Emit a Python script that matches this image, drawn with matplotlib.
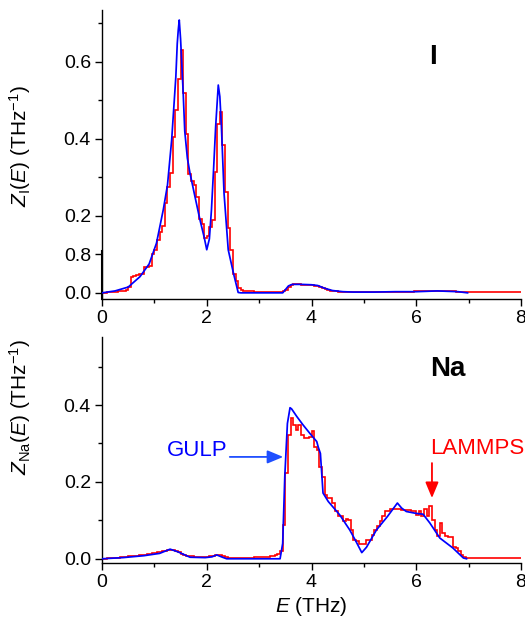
import numpy as np
import matplotlib
matplotlib.use("Agg")
import matplotlib.pyplot as plt

plt.rcParams['font.family'] = ['Liberation Sans', 'DejaVu Sans']
plt.rcParams['mathtext.fontset'] = 'custom'
plt.rcParams['mathtext.rm'] = 'Liberation Sans'
plt.rcParams['mathtext.it'] = 'Liberation Sans:italic'
plt.rcParams['mathtext.bf'] = 'Liberation Sans:bold'

# ---------------- data ----------------
bin_width = 0.05  # THz, LAMMPS histogram bins from 0 to 8

# Panel I : GULP (smooth)
gulp_I_E = [0.0, 0.25, 0.5, 0.725, 0.9, 1.04, 1.17, 1.25, 1.33, 1.41, 1.437, 1.456, 1.475,
            1.50, 1.52, 1.55, 1.58, 1.63, 1.68, 1.775, 1.87, 1.95, 2.0, 2.05, 2.09, 2.13,
            2.17, 2.22, 2.25, 2.28, 2.33, 2.41, 2.51, 2.60, 2.65, 3.45, 3.50, 3.56, 3.63,
            3.8, 4.0, 4.12, 4.25, 4.4, 4.6, 4.8, 5.2, 5.6, 6.0, 6.2, 6.4, 6.6, 6.8, 6.98]
gulp_I_Z = [0.0, 0.005, 0.015, 0.042, 0.075, 0.129, 0.216, 0.28, 0.397, 0.562, 0.648, 0.683, 0.709,
            0.66, 0.605, 0.52, 0.42, 0.35, 0.311, 0.25, 0.19, 0.145, 0.112, 0.14, 0.216, 0.32,
            0.432, 0.54, 0.51, 0.432, 0.259, 0.112, 0.051, 0.001, 0.0, 0.0, 0.008, 0.018, 0.022,
            0.022, 0.021, 0.019, 0.012, 0.006, 0.003, 0.002, 0.002, 0.003, 0.003, 0.004, 0.005,
            0.004, 0.003, 0.0]

# Panel I : LAMMPS (histogram, 160 bins of 0.05 THz)
lammps_I = [
    0.0, 0.0, 0.001, 0.003, 0.003, 0.003, 0.004, 0.005, 0.005, 0.008,
    0.015, 0.04, 0.045, 0.047, 0.05, 0.05, 0.066, 0.068, 0.07, 0.10,
    0.112, 0.138, 0.159, 0.174, 0.233, 0.276, 0.311, 0.406, 0.475, 0.555,
    0.631, 0.519, 0.413, 0.31, 0.29, 0.28, 0.25, 0.191, 0.178, 0.142,
    0.147, 0.172, 0.19, 0.315, 0.44, 0.471, 0.384, 0.263, 0.168, 0.112,
    0.05, 0.03, 0.012, 0.007, 0.005, 0.004, 0.004, 0.004, 0.003, 0.003,
    0.003, 0.003, 0.003, 0.003, 0.003, 0.003, 0.003, 0.003, 0.003, 0.004,
    0.008, 0.014, 0.02, 0.022, 0.022, 0.022, 0.021, 0.021, 0.021, 0.02,
    0.02, 0.019, 0.018, 0.015, 0.012, 0.01, 0.008, 0.006, 0.005, 0.004,
    0.003, 0.003, 0.002, 0.002, 0.002, 0.002, 0.002, 0.002, 0.002, 0.002,
    0.002, 0.002, 0.002, 0.002, 0.002, 0.002, 0.003, 0.003, 0.003, 0.003,
    0.003, 0.003, 0.003, 0.003, 0.003, 0.003, 0.003, 0.003, 0.003, 0.004,
    0.004, 0.004, 0.004, 0.005, 0.006, 0.004, 0.006, 0.005, 0.006, 0.005,
    0.006, 0.005, 0.005, 0.004, 0.004, 0.003, 0.002, 0.001, 0.001, 0.001,
    0.001, 0.001, 0.001, 0.001, 0.001, 0.001, 0.001, 0.001, 0.001, 0.001,
    0.001, 0.001, 0.001, 0.001, 0.001, 0.001, 0.001, 0.001, 0.001, 0.001,
]

# Panel Na : GULP (smooth)
gulp_Na_E = [0.0, 0.4, 0.8, 1.1, 1.30, 1.45, 1.68, 1.97, 2.1, 2.19, 2.3, 2.38, 2.6, 3.0,
             3.40, 3.45, 3.49, 3.54, 3.59, 3.62, 3.72, 3.84, 3.97, 4.10, 4.13, 4.17, 4.22,
             4.32, 4.54, 4.73, 4.85, 4.96, 5.05, 5.24, 5.45, 5.64, 5.72, 5.81, 6.0, 6.13,
             6.26, 6.45, 6.70, 6.90, 6.96]
gulp_Na_Z = [0.0, 0.003, 0.008, 0.014, 0.025, 0.018, 0.004, 0.003, 0.005, 0.01, 0.004, 0.0, 0.0, 0.0,
             0.0, 0.04, 0.214, 0.352, 0.393, 0.39, 0.37, 0.348, 0.326, 0.305, 0.29, 0.274, 0.171,
             0.149, 0.114, 0.075, 0.045, 0.016, 0.03, 0.075, 0.11, 0.145, 0.132, 0.123, 0.118, 0.116,
             0.093, 0.054, 0.028, 0.002, 0.0]

# Panel Na : LAMMPS (histogram, 160 bins of 0.05 THz)
lammps_Na = [
    0.0, 0.0, 0.001, 0.002, 0.002, 0.003, 0.003, 0.004, 0.004, 0.005,
    0.006, 0.007, 0.008, 0.008, 0.009, 0.010, 0.011, 0.012, 0.013, 0.014,
    0.016, 0.017, 0.018, 0.020, 0.021, 0.023, 0.023, 0.024, 0.021, 0.017,
    0.013, 0.010, 0.008, 0.007, 0.006, 0.005, 0.005, 0.004, 0.004, 0.005,
    0.005, 0.006, 0.008, 0.010, 0.011, 0.009, 0.006, 0.004, 0.003, 0.003,
    0.003, 0.003, 0.003, 0.003, 0.003, 0.003, 0.003, 0.003, 0.004, 0.004,
    0.004, 0.004, 0.004, 0.005, 0.006, 0.007, 0.009, 0.012, 0.020, 0.088,
    0.223, 0.322, 0.365, 0.348, 0.335, 0.348, 0.322, 0.313, 0.313, 0.318,
    0.333, 0.292, 0.283, 0.24, 0.214, 0.166, 0.157, 0.157, 0.145, 0.123,
    0.11, 0.11, 0.097, 0.104, 0.101, 0.075, 0.049, 0.045, 0.039, 0.039,
    0.039, 0.048, 0.05, 0.062, 0.075, 0.084, 0.097, 0.11, 0.123, 0.125,
    0.129, 0.129, 0.129, 0.129, 0.128, 0.127, 0.126, 0.126, 0.125, 0.125,
    0.115, 0.125, 0.112, 0.13, 0.112, 0.138, 0.101, 0.075, 0.058, 0.093,
    0.067, 0.06, 0.057, 0.057, 0.03, 0.028, 0.02, 0.01, 0.004, 0.002,
    0.002, 0.002, 0.002, 0.002, 0.002, 0.002, 0.002, 0.002, 0.002, 0.002,
    0.002, 0.002, 0.002, 0.002, 0.002, 0.002, 0.002, 0.002, 0.002, 0.002,
]

x_ticks = [0, 2, 4, 6, 8]
x_tick_labels = ['0', '2', '4', '6', '8']
I_yticks = [0.0, 0.1, 0.2, 0.4, 0.6]
I_ytick_labels = ['0.0', '0.8', '0.2', '0.4', '0.6']
Na_yticks = [0.0, 0.2, 0.4]
Na_ytick_labels = ['0.0', '0.2', '0.4']

# ---------------- figure ----------------
BLUE = '#0000ff'
RED = '#ff0000'
TICK_FS = 14
LABEL_FS = 15

fig = plt.figure(figsize=(5.25, 6.27), dpi=100)
ax1 = fig.add_axes([102/525, 1-299/627, 419/525, 289/627])
ax2 = fig.add_axes([102/525, 1-563/627, 419/525, 226/627])

edges_I = np.arange(len(lammps_I) + 1) * bin_width
edges_Na = np.arange(len(lammps_Na) + 1) * bin_width

for ax in (ax1, ax2):
    for s in ('top', 'right'):
        ax.spines[s].set_visible(False)
    ax.spines['left'].set_linewidth(1.0)
    ax.spines['bottom'].set_linewidth(1.0)
    ax.set_xlim(0, 8)
    ax.set_xticks(x_ticks)
    ax.set_xticklabels(x_tick_labels)
    ax.set_xticks([1, 3, 5, 7], minor=True)
    ax.tick_params(axis='both', which='major', direction='out', length=5, width=1.0,
                   labelsize=TICK_FS, pad=3)
    ax.tick_params(axis='both', which='minor', direction='out', length=3, width=1.0)

# Panel I
ax1.stairs(lammps_I, edges_I, color=RED, lw=1.2, baseline=None, zorder=2)
ax1.plot(gulp_I_E, gulp_I_Z, color=BLUE, lw=1.25, zorder=3)
ax1.set_ylim(-0.016, 0.735)
ax1.set_yticks(I_yticks)
ax1.set_yticklabels(I_ytick_labels)
ax1.set_yticks([0.3, 0.5, 0.7], minor=True)
ax1.set_ylabel(r'$Z_{\mathrm{I}}(E)$ (THz$^{-1}$)', fontsize=LABEL_FS)
ax1.yaxis.set_label_coords(-0.165, 0.53)
ax1.plot([0, 0], [-0.016, 0.11], color='black', lw=1.5, clip_on=False, zorder=1)
ax1.text(6.32, 0.613, 'I', fontsize=20, fontweight='bold', ha='center', va='center')

# Panel Na
ax2.stairs(lammps_Na, edges_Na, color=RED, lw=1.2, baseline=None, zorder=2)
ax2.plot(gulp_Na_E, gulp_Na_Z, color=BLUE, lw=1.25, zorder=3)
ax2.set_ylim(-0.011, 0.577)
ax2.set_yticks(Na_yticks)
ax2.set_yticklabels(Na_ytick_labels)
ax2.set_yticks([0.1, 0.3, 0.5], minor=True)
ax2.set_ylabel(r'$Z_{\mathrm{Na}}(E)$ (THz$^{-1}$)', fontsize=LABEL_FS)
ax2.yaxis.set_label_coords(-0.165, 0.69)
ax2.set_xlabel(r'$E$ (THz)', fontsize=LABEL_FS, labelpad=3)
ax2.text(6.6, 0.494, 'Na', fontsize=20, fontweight='bold', ha='center', va='center')

ax2.text(1.81, 0.283, 'GULP', color=BLUE, fontsize=16, ha='center', va='center')
ax2.annotate('', xy=(3.46, 0.265), xytext=(2.44, 0.265),
             arrowprops=dict(arrowstyle='-|>,head_length=0.6,head_width=0.25',
                             color='#1f4fff', lw=1.3,
                             mutation_scale=16, shrinkA=0, shrinkB=0))
ax2.text(7.16, 0.288, 'LAMMPS', color=RED, fontsize=16, ha='center', va='center',
         clip_on=False)
ax2.annotate('', xy=(6.30, 0.158), xytext=(6.30, 0.249),
             arrowprops=dict(arrowstyle='-|>,head_length=0.6,head_width=0.25',
                             color=RED, lw=1.3,
                             mutation_scale=16, shrinkA=0, shrinkB=0))

fig.savefig('out.png', dpi=100)
